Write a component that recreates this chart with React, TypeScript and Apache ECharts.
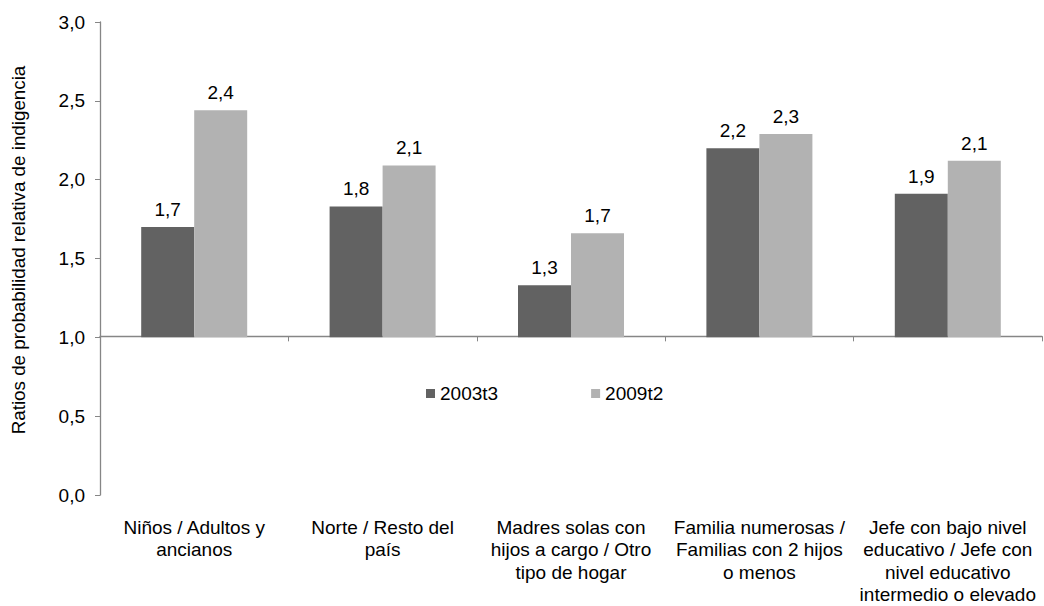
import React, { useEffect, useRef } from "react";
import * as echarts from "echarts";

const categories = [
  "Niños / Adultos y\nancianos",
  "Norte / Resto del\npaís",
  "Madres solas con\nhijos a cargo / Otro\ntipo de hogar",
  "Familia numerosas /\nFamilias con 2 hijos\no menos",
  "Jefe con bajo nivel\neducativo / Jefe con\nnivel educativo\nintermedio o elevado",
];
const seriesNames = ["2003t3", "2009t2"];
const values2003 = [1.7, 1.83, 1.33, 2.2, 1.91];
const values2009 = [2.44, 2.09, 1.66, 2.29, 2.12];
const yTickValues = [0, 0.5, 1, 1.5, 2, 2.5, 3];

const FONT = "'Liberation Sans', Arial, sans-serif";
const AXIS = "#868686";
const fmt = (v: number) => v.toFixed(1).replace(".", ",");

export default function App() {
  const ref = useRef<HTMLDivElement>(null);
  useEffect(() => {
    if (!ref.current) return;
    const chart = echarts.init(ref.current, undefined, { renderer: "svg" });
    const gridTop = 22;
    const gridBottom = 108;
    const gridH = 606 - gridTop - gridBottom;
    const yMin = yTickValues[0];
    const yMax = yTickValues[yTickValues.length - 1];
    const baseline = 1;
    const lineOffset = -(gridH * (baseline - yMin)) / (yMax - yMin);
    const labelStyle = {
      show: true,
      position: "top",
      distance: 8,
      fontSize: 19,
      fontFamily: FONT,
      color: "#000",
      formatter: (p: any) => fmt(p.value),
    };
    chart.setOption({
      animation: false,
      textStyle: { fontFamily: FONT },
      grid: { left: 100, right: 2, top: gridTop, bottom: gridBottom },
      legend: {
        data: seriesNames,
        left: 421,
        top: 379,
        icon: "rect",
        itemWidth: 9,
        itemHeight: 9,
        itemGap: 93,
        textStyle: { fontSize: 19, color: "#000", fontFamily: FONT },
      },
      xAxis: [
        {
          type: "category",
          data: categories,
          position: "bottom",
          axisLine: { show: false, onZero: false },
          axisTick: { show: false },
          axisLabel: {
            interval: 0,
            margin: 21,
            fontSize: 19,
            lineHeight: 22.5,
            color: "#000",
            fontFamily: FONT,
            align: "center",
          },
        },
        {
          type: "category",
          data: categories,
          position: "bottom",
          offset: lineOffset,
          axisLine: { show: true, onZero: false, lineStyle: { color: AXIS, width: 1.3 } },
          axisTick: { show: true, length: 5, lineStyle: { color: AXIS } },
          axisLabel: { show: false },
        },
      ],
      yAxis: {
        type: "value",
        min: yMin,
        max: yMax,
        interval: 0.5,
        startValue: baseline,
        name: "Ratios de probabilidad relativa de indigencia",
        nameLocation: "middle",
        nameGap: 72,
        nameTextStyle: {
          fontSize: 18.8,
          color: "#000",
          fontFamily: FONT,
          padding: [0, 0, 0, 17],
        },
        axisLine: { show: true, lineStyle: { color: AXIS, width: 1.3 } },
        axisTick: { show: true, length: 5, lineStyle: { color: AXIS } },
        splitLine: { show: false },
        axisLabel: {
          fontSize: 19,
          color: "#000",
          fontFamily: FONT,
          margin: 15,
          formatter: (v: number) => fmt(v),
        },
      },
      series: [
        {
          type: "bar",
          name: seriesNames[0],
          data: values2003,
          xAxisIndex: 0,
          barWidth: 53,
          barGap: "0%",
          itemStyle: { color: "#626262" },
          label: labelStyle,
        },
        {
          type: "bar",
          name: seriesNames[1],
          data: values2009,
          xAxisIndex: 0,
          barWidth: 53,
          barGap: "0%",
          itemStyle: { color: "#b2b2b2" },
          label: labelStyle,
        },
      ],
    });
    return () => chart.dispose();
  }, []);
  return (
    <div
      ref={ref}
      style={{ position: "fixed", left: 0, top: 0, width: 1044, height: 606, background: "#fff" }}
    />
  );
}
